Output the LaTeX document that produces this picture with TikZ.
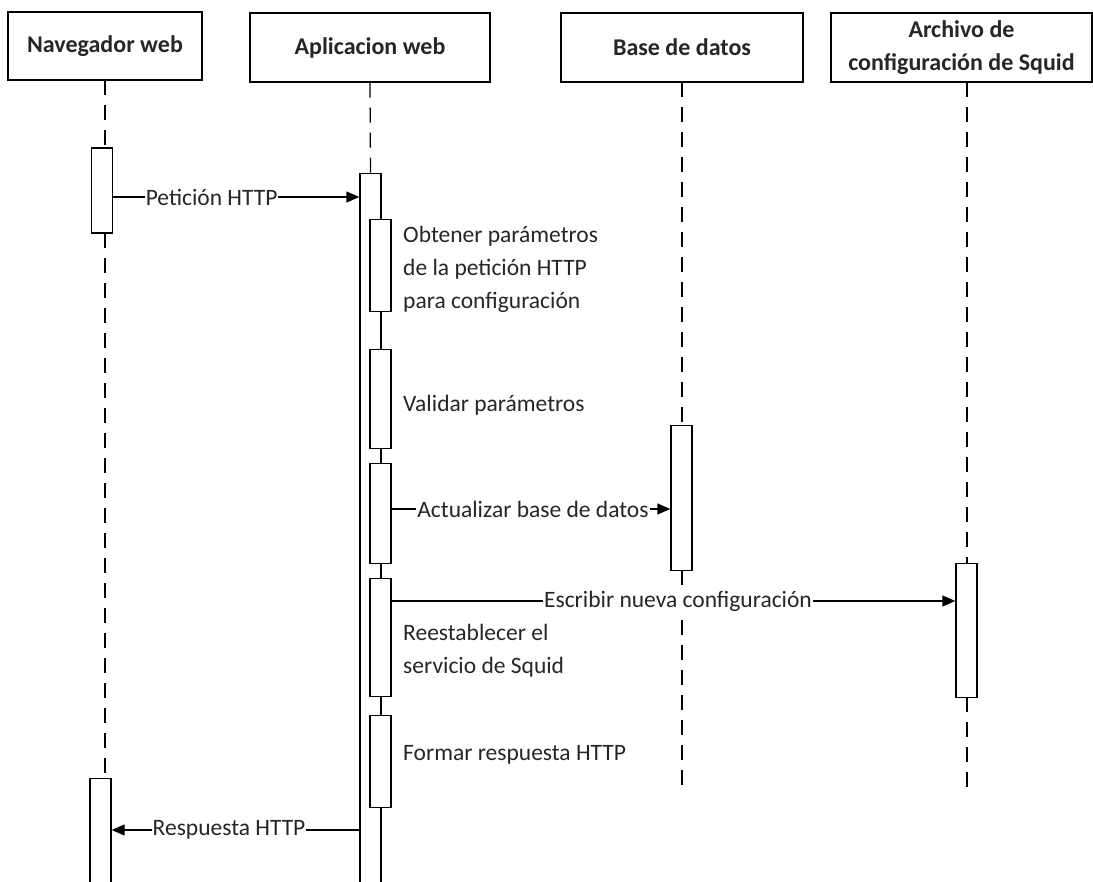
\documentclass[tikz,border=0pt]{standalone}
\usepackage{fontspec}
\setmainfont{Carlito}
\usetikzlibrary{arrows.meta}
\begin{document}
\begin{tikzpicture}[x=1pt,y=-1pt,
  every node/.style={font=\fontsize{23.5}{33}\selectfont, text=black!85},
  head/.style={draw, line width=1.4pt, fill=white, font=\fontsize{24}{33}\selectfont\bfseries, align=center, inner sep=0pt},
  act/.style={draw, line width=1.4pt, fill=white, minimum width=21pt, inner sep=0pt},
  life/.style={line width=1.3pt, dash pattern=on 15pt off 10pt},
  msg/.style={line width=1.4pt, -{Triangle[length=13pt,width=11pt]}},
  lbl/.style={fill=white, inner sep=1pt},
  note/.style={anchor=west, align=left, inner sep=0pt}]
\useasboundingbox (0,0) rectangle (1093,882);
\clip (0,0) rectangle (1093,882);
% headers
\node[head, minimum width=194pt, minimum height=68pt] (nav) at (105,46) {Navegador web};
\node[head, minimum width=240pt, minimum height=69pt] (app) at (370,47.5) {Aplicacion web};
\node[head, minimum width=242pt, minimum height=69pt] (db) at (682,47.5) {Base de datos};
\node[head, minimum width=261pt, minimum height=69pt] (cfg) at (961.5,47.5) {Archivo de\\configuración de Squid};
% activations
\node[act, minimum height=85pt] (navA1) at (102,190.5) {};
\node[act, minimum height=120pt, anchor=north] (navA2) at (100.5,778) {};
\node[act, minimum height=740pt, anchor=north] (appMain) at (370.5,173) {};
\node[act, minimum height=92pt, anchor=north] (n1) at (380.5,219) {};
\node[act, minimum height=99pt, anchor=north] (n2) at (380.5,349) {};
\node[act, minimum height=100pt, anchor=north] (n3) at (380.5,463) {};
\node[act, minimum height=118pt, anchor=north] (n4) at (380.5,578) {};
\node[act, minimum height=92pt, anchor=north] (n5) at (380.5,715) {};
\node[act, minimum height=145pt, anchor=north] (dbA) at (681.5,425) {};
\node[act, minimum height=134pt, anchor=north] (cfgA) at (966.5,563) {};
\coordinate (dbEnd) at (682,790);
\coordinate (cfgEnd) at (967,790);
% lifelines
\draw[life] (105,80) -- (105,148);
\draw[life] (105,233) -- (105,778);
\draw[life] (app.south) -- (appMain.north);
\draw[life] (682,82) -- (682,425);
\draw[life] (682,570) -- (dbEnd);
\draw[life] (967,82) -- (967,563);
\draw[life] (967,697) -- (cfgEnd);
% messages
\draw[msg] (navA1.east |- 0,197) -- node[lbl, pos=0.4] {Petición HTTP} (appMain.west |- 0,197);
\draw[msg] (n3.east |- 0,509) -- node[lbl, pos=0.507] {Actualizar base de datos} (dbA.west |- 0,509);
\draw[msg] (n4.east |- 0,601) -- node[lbl, pos=0.508] {Escribir nueva configuración} (cfgA.west |- 0,601);
\draw[msg] (appMain.west |- 0,830) -- node[lbl, pos=0.526] {Respuesta HTTP} (navA2.east |- 0,830);
% notes
\node[note] (t1) at (403,269) {Obtener parámetros\\de la petición HTTP\\para configuración};
\node[note] (t2) at (403,405) {Validar parámetros};
\node[note] (t3) at (403,651) {Reestablecer el\\servicio de Squid};
\node[note] (t4) at (403,755) {Formar respuesta HTTP};
\end{tikzpicture}
\end{document}
